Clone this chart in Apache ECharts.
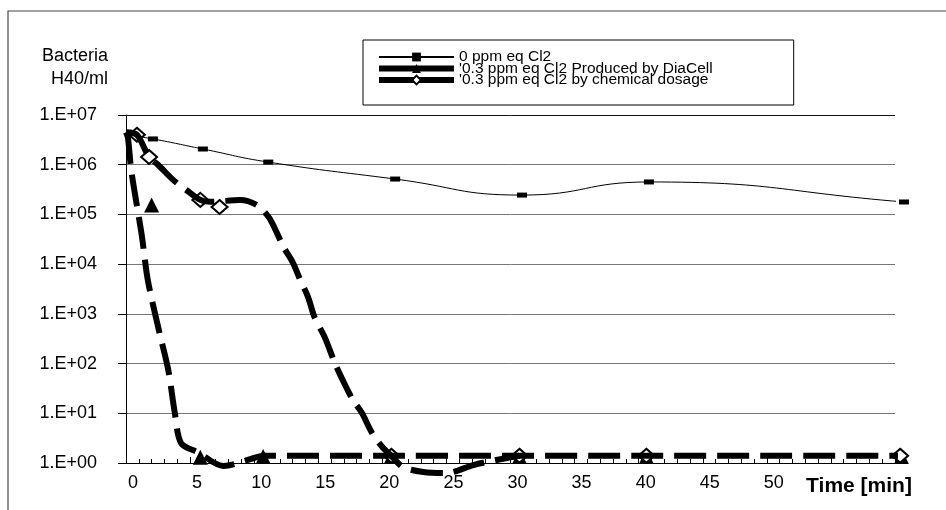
<!DOCTYPE html>
<html><head><meta charset="utf-8">
<script src="https://cdn.jsdelivr.net/npm/echarts@6.0.0/dist/echarts.min.js"></script>
<style>html,body{margin:0;padding:0;background:#fff}#c{width:946px;height:510px}</style>
</head><body><div id="c"></div>
<script>
// ---- tick labels ----
const xTickValues = [0,5,10,15,20,25,30,35,40,45,50,55,60];
const xTickLabels = ['0','5','10','15','20','25','30','35','40','45','50','',''];
const yTickLabels = ['1.E+00','1.E+01','1.E+02','1.E+03','1.E+04','1.E+05','1.E+06','1.E+07'];

// ---- series names ----
const name0 = '0 ppm eq Cl2';
const nameD = '0.3 ppm eq Cl2 Produced by DiaCell';
const nameC = '0.3 ppm eq Cl2 by chemical dosage';

// ---- 0 ppm eq Cl2: curve and markers ----
const curve0X = [0, 2.1, 6.0, 11.1, 21.0, 30.9, 40.8, 60.7, 62.5];
const curve0Y = [4.0e6, 3.3e6, 2.07e6, 1.13e6, 5.15e5, 2.45e5, 4.5e5, 1.78e5, 1.55e5];
const mark0X = [2.1, 6.0, 11.1, 21.0, 30.9, 40.8, 60.7];
const mark0Y = [3.3e6, 2.07e6, 1.13e6, 5.15e5, 2.45e5, 4.5e5, 1.78e5];

// ---- DiaCell: curve and markers ----
const curveDX = [0, 0.15, 0.4, 0.8, 1.25, 1.7, 2.6, 3.3, 3.8, 4.3, 5.6, 7.6, 10.0, 10.7, 62.5];
const curveDY = [4.5e6, 3.5e6, 8.1e5, 1.8e5, 3.5e4, 4.8e3, 430, 74, 10.5, 2.5, 1.65, 0.87, 1.26, 1.4, 1.4];
const markDX = [2.0, 5.8, 10.7, 20.7, 30.7, 40.6, 60.5];
const markDY = [1.55e5, 1.3, 1.35, 1.35, 1.35, 1.35, 1.35];

// ---- chemical dosage: curve and markers ----
const curveCX = [0, 0.85, 1.8, 2.5, 3.7, 4.7, 5.8, 6.6, 8.9, 10.2, 11.0, 11.4, 12.3, 13.0, 13.6, 14.2, 14.7, 15.5, 16.3, 16.9, 17.7, 18.4, 19.2, 20.0, 20.7, 21.6, 23.2, 25.0, 27.1, 28.9, 30.7];
const curveCY = [4.5e6, 4.0e6, 1.43e6, 1.0e6, 4.9e5, 3.1e5, 1.96e5, 1.8e5, 1.95e5, 1.55e5, 9.8e4, 6.8e4, 2.2e4, 1.1e4, 4.8e3, 2.2e3, 870, 340, 102, 47, 18.6, 10.2, 4.0, 2.1, 1.4, 0.83, 0.66, 0.63, 0.91, 1.15, 1.4];
const markCX = [0.85, 1.8, 5.8, 7.3, 20.7, 30.7, 40.6, 60.4];
const markCY = [4.0e6, 1.43e6, 1.96e5, 1.41e5, 1.4, 1.4, 1.4, 1.4];

const zip = (xs, ys) => xs.map((x, i) => [x, ys[i]]);
const FONT = "'Liberation Sans', Arial, sans-serif";

const chart = echarts.init(document.getElementById('c'));

chart.setOption({
  animation: false,
  backgroundColor: '#fff',
  textStyle: {fontFamily: FONT},
  grid: {left: 126, right: 51, top: 115, bottom: 47},
  graphic: [{
    type: 'rect', silent: true, z: -10,
    shape: {x: 8, y: 11, width: 1000, height: 600},
    style: {fill: 'none', stroke: '#444', lineWidth: 1.2}
  }],
  legend: {
    orient: 'vertical', left: 363, top: 40,
    padding: [9, 81, 17, 13],
    itemWidth: 75, itemHeight: 11, itemGap: -4.5,
    borderColor: '#000', borderWidth: 1, backgroundColor: '#fff',
    selectedMode: false,
    textStyle: {fontSize: 15.5, lineHeight: 16, color: '#000'},
    formatter: n => (n === name0 ? n : "'" + n),
    data: [
      {name: name0},
      {name: nameD, lineStyle: {type: 'solid', width: 6, color: '#000'}},
      {name: nameC, lineStyle: {type: 'solid', width: 6, color: '#000'}}
    ]
  },
  xAxis: {
    type: 'value', min: 0, max: 60, interval: 5,
    name: 'Time [min]', nameLocation: 'end', nameGap: -36,
    nameTextStyle: {fontSize: 21, fontWeight: 'bold', color: '#000', align: 'center', verticalAlign: 'top', lineHeight: 22, padding: [12, 0, 0, 0]},
    axisLine: {show: true, onZero: false, lineStyle: {color: '#000', width: 1}},
    axisTick: {show: true, inside: true, length: 6, lineStyle: {color: '#000', width: 1}},
    minorTick: {show: true, splitNumber: 5, length: 4, lineStyle: {color: '#000', width: 1}},
    axisLabel: {show: true, margin: 11, fontSize: 18, color: '#000', padding: [0, 0, 0, 14],
      formatter: v => { const i = xTickValues.indexOf(v); return i >= 0 ? xTickLabels[i] : ''; }},
    splitLine: {show: false}
  },
  yAxis: {
    type: 'log', min: 1, max: 1e7,
    name: 'Bacteria\nH40/ml', nameLocation: 'end', nameGap: 24,
    nameTextStyle: {fontSize: 18, color: '#000', align: 'right', verticalAlign: 'bottom', lineHeight: 23, padding: [0, 18, 0, 0]},
    axisLine: {show: true, onZero: false, lineStyle: {color: '#000', width: 1}},
    axisTick: {show: true, inside: false, length: 8, lineStyle: {color: '#000', width: 1}},
    axisLabel: {show: true, margin: 29, fontSize: 18, color: '#000',
      formatter: v => yTickLabels[Math.round(Math.log10(v))]},
    splitLine: {show: true, lineStyle: {color: ['#777','#777','#777','#777','#777','#777','#777','#111'], width: 1}}
  },
  series: [
    {name: name0, type: 'line', smooth: 0.5, clip: false, showSymbol: false,
      symbol: 'rect', itemStyle: {color: '#000'}, lineStyle: {color: '#000', width: 1},
      data: zip(curve0X, curve0Y)},
    {name: nameD, type: 'line', smooth: 0.3, clip: false, showSymbol: false,
      symbol: 'triangle', itemStyle: {color: '#000'},
      lineStyle: {color: '#000', width: 6, type: [32, 11], cap: 'butt'},
      data: zip(curveDX, curveDY)},
    {name: nameC, type: 'line', smooth: 0.3, clip: false, showSymbol: false,
      symbol: 'diamond', itemStyle: {color: '#fff', borderColor: '#000', borderWidth: 1.5},
      lineStyle: {color: '#000', width: 6, type: [32, 11], cap: 'butt'},
      data: zip(curveCX, curveCY)},
    {name: name0, type: 'scatter', clip: false, symbol: 'rect', symbolSize: [10, 5],
      itemStyle: {color: '#000', opacity: 1}, data: zip(mark0X, mark0Y)},
    {name: nameD, type: 'scatter', clip: false, symbol: 'triangle', symbolSize: [15, 15],
      itemStyle: {color: '#000', opacity: 1}, data: zip(markDX, markDY)},
    {name: nameC, type: 'scatter', clip: false, symbol: 'diamond', symbolSize: [16, 14],
      itemStyle: {color: '#fff', borderColor: '#000', borderWidth: 2, opacity: 1}, data: zip(markCX, markCY)}
  ]
});
</script>
</body></html>
